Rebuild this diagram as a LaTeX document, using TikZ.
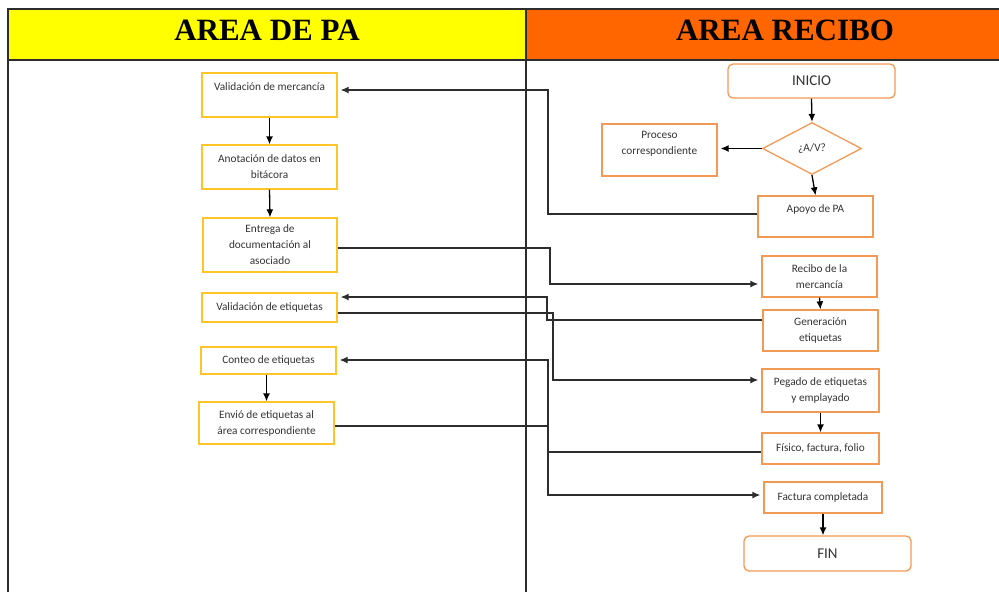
\documentclass[tikz,border=0pt]{standalone}
\usepackage{fontspec}
\setmainfont{Carlito}
\newfontfamily\headfont{Liberation Serif}
\usetikzlibrary{arrows.meta,shapes.geometric}

\definecolor{headPA}{RGB}{255,255,0}
\definecolor{headRecibo}{RGB}{255,102,0}
\definecolor{borderPA}{RGB}{255,196,40}
\definecolor{borderRecibo}{RGB}{243,153,86}
\definecolor{lineGray}{RGB}{45,45,45}

\newcommand{\boxfont}{\fontsize{11.3}{16}\selectfont}
\newcommand{\bigboxfont}{\fontsize{15}{18}\selectfont}

\begin{document}
\begin{tikzpicture}[x=1pt, y=-1pt,
    frame/.style={draw=lineGray, line width=1.1pt},
    headtext/.style={font=\headfont\bfseries\fontsize{31}{36}\selectfont, anchor=base, inner sep=0pt},
    paBox/.style={draw=borderPA, line width=1.3pt, minimum width=135pt, inner sep=0pt, align=center, font=\boxfont, text=black!80},
    recBox/.style={draw=borderRecibo, line width=1.3pt, minimum width=115pt, inner sep=0pt, align=center, font=\boxfont, text=black!80},
    termBox/.style={recBox, rounded corners=5pt, minimum width=167pt, font=\bigboxfont},
    flow/.style={draw=black, line width=1.3pt, -{Latex[length=8pt,width=7pt]}},
    flowline/.style={flow, draw=lineGray, shorten >=3pt}]
  \useasboundingbox (0,0) rectangle (999,592);

  \fill[headPA] (8,9) rectangle (526,60);
  \fill[headRecibo] (526,9) rectangle (999,60);
  \draw[frame] (8,592) -- (8,9) -- (999,9);
  \draw[frame] (8,60) -- (999,60);
  \draw[frame] (526,9) -- (526,592);
  \node[headtext] (hdrpa) at (267,40) {AREA DE PA};
  \node[headtext] (hdrrec) at (785,40) {AREA RECIBO};

  \node[paBox, minimum height=44pt] (valmerc) at (269.5,95) {Validación de mercancía\\ \mbox{}};
  \node[paBox, minimum height=44pt] (anot) at (269.5,167) {Anotación de datos en\\bitácora};
  \node[paBox, minimum height=54pt, minimum width=134pt] (entrega) at (270,245) {Entrega de\\documentación al\\asociado};
  \node[paBox, minimum height=29pt] (valetiq) at (269.5,307.5) {Validación de etiquetas};
  \node[paBox, minimum height=27pt] (conteo) at (268.5,360.5) {Conteo de etiquetas};
  \node[paBox, minimum height=42pt] (envio) at (266.5,423) {Envió de etiquetas al\\área correspondiente};

  \node[termBox, minimum height=34pt] (inicio) at (811.5,81) {INICIO};
  \node[diamond, draw=borderRecibo, line width=1.3pt, inner sep=0pt, aspect=1.9,
        minimum width=99pt, minimum height=52pt, font=\boxfont, text=black!80] (avq) at (812,148.5) {¿A/V?};
  \node[recBox, minimum height=52pt, text depth=14pt] (proceso) at (659.5,150) {Proceso\\correspondiente};
  \node[recBox, minimum height=41pt] (apoyo) at (815.5,216.5) {Apoyo de PA\\ \mbox{}};
  \node[recBox, minimum height=41pt] (recibo) at (819.5,276.5) {Recibo de la\\mercancía};
  \node[recBox, minimum height=41pt] (gener) at (820.5,330.5) {Generación\\etiquetas};
  \node[recBox, minimum height=43pt, minimum width=117pt] (pegado) at (820.5,390.5) {Pegado de etiquetas\\y emplayado};
  \node[recBox, minimum height=31pt, minimum width=117pt] (fisico) at (820.5,448.5) {Físico, factura, folio};
  \node[recBox, minimum height=31pt, minimum width=118pt] (factura) at (823,497.5) {Factura completada};
  \node[termBox, minimum height=35pt] (fin) at (827.5,553.5) {FIN};

  \draw[flow] (valmerc.south) -- (anot.north);
  \draw[flow] (anot.south) -- (entrega.north);
  \draw[flow] (envio.north |- conteo.south) -- (envio.north);

  \draw[flow] (inicio.south) -- (avq.north);
  \draw[flow, shorten >=3pt] (avq.west) -- (proceso.east |- avq.west);
  \draw[flow] (avq.south) -- (apoyo.north);
  \draw[flow] (recibo.south) -- (gener.north);
  \draw[flow] (pegado.south) -- (fisico.north);
  \draw[flow] (factura.south) -- (factura.south |- fin.north);

  \draw[flowline] (apoyo.west |- 0,214) -| (548,90) -- (valmerc.east |- 0,90);
  \draw[flowline] (entrega.east |- 0,248) -| (550,284) -- (recibo.west |- 0,284);
  \draw[flowline] (gener.west |- 0,320) -| (547,297) -- (valetiq.east |- 0,297);
  \draw[flowline] (valetiq.east |- 0,313) -| (553,380) -- (pegado.west |- 0,380);
  \draw[flowline] (fisico.west |- 0,452) -| (548,360) -- (conteo.east |- 0,360);
  \draw[flowline] (envio.east |- 0,426) -| (548,495) -- (factura.west |- 0,495);
\end{tikzpicture}
\end{document}
